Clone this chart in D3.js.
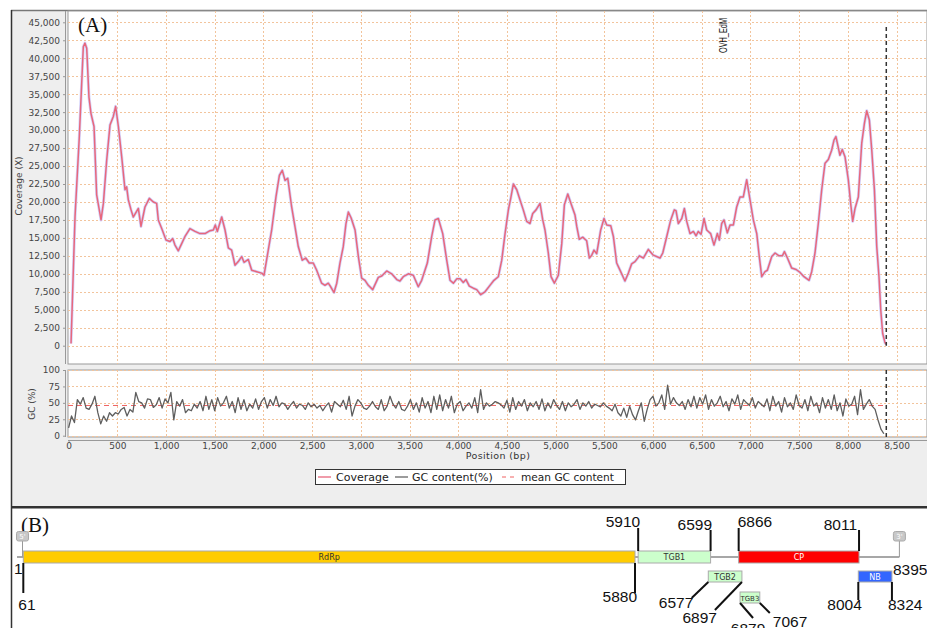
<!DOCTYPE html>
<html>
<head>
<meta charset="utf-8">
<script src="https://cdn.jsdelivr.net/npm/d3@7/dist/d3.min.js"></script>
<style>
  body { margin: 0; background: #fff; }
  svg { display: block; }
</style>
</head>
<body>
<svg id="chart" width="927" height="628" font-family="'DejaVu Sans', sans-serif"></svg>
<script>
// coverage depth: position (bp) and depth (X)
const covPos = [25, 66, 110, 151, 168, 186, 209, 230, 261, 288, 333, 357, 391, 425, 459, 483, 511, 545, 579, 596,
  613, 641, 664, 716, 743, 784, 829, 870, 904, 921, 956, 1000, 1041, 1069, 1092, 1126, 1161, 1195, 1246, 1298,
  1349, 1400, 1452, 1486, 1506, 1527, 1572, 1606, 1640, 1674, 1708, 1742, 1777, 1801, 1845, 1880, 1931, 1983, 2006, 2050,
  2085, 2129, 2164, 2194, 2222, 2250, 2290, 2325, 2358, 2399, 2434, 2471, 2512, 2547, 2598, 2632, 2666, 2691, 2725, 2753,
  2786, 2820, 2848, 2872, 2900, 2941, 2975, 3009, 3043, 3077, 3122, 3180, 3215, 3266, 3317, 3369, 3402, 3436, 3488, 3539,
  3590, 3625, 3683, 3728, 3762, 3796, 3841, 3882, 3916, 3950, 3985, 4019, 4052, 4080, 4114, 4155, 4190, 4231, 4275, 4326,
  4367, 4412, 4447, 4481, 4515, 4539, 4566, 4601, 4634, 4668, 4703, 4737, 4765, 4799, 4840, 4868, 4891, 4925, 4953, 4987,
  5028, 5063, 5090, 5125, 5155, 5199, 5217, 5243, 5278, 5319, 5346, 5371, 5394, 5422, 5463, 5497, 5525, 5566, 5593, 5627,
  5668, 5712, 5747, 5781, 5815, 5860, 5901, 5952, 6003, 6072, 6100, 6141, 6182, 6219, 6236, 6260, 6295, 6322, 6346, 6380,
  6414, 6442, 6465, 6493, 6524, 6551, 6592, 6626, 6660, 6681, 6705, 6729, 6763, 6791, 6825, 6859, 6893, 6927, 6962, 6996,
  7030, 7065, 7091, 7116, 7150, 7174, 7219, 7253, 7294, 7328, 7349, 7380, 7424, 7469, 7509, 7550, 7602, 7629, 7663, 7697,
  7732, 7766, 7800, 7834, 7858, 7878, 7919, 7943, 7971, 8005, 8029, 8050, 8074, 8108, 8143, 8170, 8194, 8221, 8246, 8273,
  8297, 8320, 8338, 8358, 8382, 8395];
const covVal = [300, 17950, 29070, 41600, 42100, 41400, 34600, 32300, 30500, 21000, 17500, 19800, 25800, 30700, 31900, 33300, 30500, 26300, 21700, 22100,
  20300, 18900, 17900, 19100, 16600, 19300, 20500, 20000, 19800, 17500, 16300, 14700, 14500, 14900, 14000, 13200, 14200, 15200, 16300, 15900,
  15600, 15600, 16000, 16100, 16800, 15900, 17900, 16100, 13600, 13300, 11200, 11700, 12400, 11600, 12000, 10500, 10300, 10100, 9800, 13300,
  16100, 20700, 23700, 24400, 23000, 23300, 19300, 16500, 13800, 11900, 12200, 11500, 11500, 10500, 8700, 8400, 8700, 8200, 7400, 8700,
  11500, 13800, 17000, 18600, 17800, 16100, 12400, 9400, 9100, 8400, 7800, 9500, 9700, 10400, 10000, 9200, 9000, 9600, 10000, 9800,
  8200, 9100, 11500, 15200, 17500, 17700, 15600, 11900, 9100, 8700, 9300, 9300, 8800, 9200, 8300, 8000, 7800, 7100, 7500, 8400,
  9100, 9600, 11900, 15600, 18900, 20500, 22500, 21700, 20300, 18900, 17300, 17000, 18400, 18900, 19800, 17500, 16100, 12900, 9600, 8700,
  9800, 14200, 19600, 21100, 19900, 18200, 16600, 14800, 15100, 14600, 12200, 12600, 13300, 12800, 16100, 17700, 16800, 16700, 15200, 11500,
  10300, 9000, 10100, 11400, 11700, 12500, 12200, 13400, 12600, 12200, 12900, 15200, 17500, 18900, 18800, 17000, 17700, 19100, 17300, 15600,
  15900, 15300, 15900, 15500, 17700, 16100, 15600, 14000, 15600, 14700, 17000, 17500, 15700, 16800, 16800, 19300, 20700, 20700, 23100, 20300,
  17500, 15600, 12400, 9600, 10300, 10500, 12400, 12900, 12500, 12500, 13100, 12200, 10800, 10600, 10200, 9600, 9100, 10300, 12900, 17000,
  21700, 25400, 25900, 27200, 28600, 29100, 26500, 27300, 26300, 23100, 19800, 17300, 19100, 20700, 28200, 30900, 32700, 31400, 27200, 21700,
  13800, 9600, 5000, 1700, 400, 200];

// GC content (%) in 30 bp windows, first window at 0 bp
const gcStep = 30;
const gcVal = [
  12, 30, 20, 55, 48, 58, 42, 40, 48, 60, 35, 18, 30, 22, 35, 30, 35, 33, 40, 43,
  30, 40, 36, 66, 52, 50, 42, 56, 55, 43, 47, 58, 42, 56, 50, 66, 24, 52, 45, 55,
  35, 40, 38, 48, 42, 52, 38, 60, 40, 55, 38, 58, 45, 50, 60, 42, 52, 35, 58, 40,
  55, 38, 48, 42, 56, 40, 52, 58, 42, 55, 46, 60, 44, 50, 48, 40, 47, 52, 42, 48,
  46, 40, 50, 44, 48, 42, 46, 38, 45, 50, 36, 52, 48, 44, 54, 40, 60, 30, 45, 55,
  50, 42, 40, 45, 52, 44, 40, 55, 38, 45, 60, 48, 42, 52, 40, 38, 45, 55, 40, 50,
  36, 58, 42, 52, 35, 60, 40, 62, 38, 55, 42, 60, 35, 48, 52, 38, 45, 50, 42, 58,
  35, 70, 40, 50, 45, 48, 52, 50, 47, 42, 54, 36, 58, 40, 52, 45, 55, 38, 50, 44,
  52, 40, 56, 38, 50, 42, 55, 46, 40, 52, 38, 50, 44, 48, 55, 40, 50, 45, 52, 42,
  48, 46, 44, 50, 45, 42, 38, 48, 35, 30, 42, 28, 45, 32, 24, 38, 50, 22, 40, 55,
  60, 45, 50, 62, 40, 77, 48, 58, 50, 46, 52, 40, 55, 44, 60, 42, 58, 48, 62, 40,
  55, 45, 50, 60, 44, 52, 38, 56, 48, 62, 40, 55, 50, 46, 58, 42, 52, 48, 44, 56,
  38, 60, 45, 52, 36, 58, 44, 50, 40, 62, 46, 42, 55, 38, 60, 45, 50, 35, 58, 42,
  55, 40, 62, 38, 50, 30, 56, 45, 48, 60, 32, 70, 40, 48, 55, 45, 40, 24, 10, 3];
const gcMean = 46;

const covTicks = [0, 2500, 5000, 7500, 10000, 12500, 15000, 17500, 20000, 22500,
  25000, 27500, 30000, 32500, 35000, 37500, 40000, 42500, 45000];
const gcTicks = [0, 25, 50, 75, 100];
const posTicks = [0, 500, 1000, 1500, 2000, 2500, 3000, 3500, 4000, 4500, 5000, 5500, 6000, 6500, 7000, 7500, 8000, 8500];

// genome map (B)
const genomeLength = 8395;
const orfNames = ["RdRp", "TGB1", "TGB2", "TGB3", "CP", "NB"];
const orfStart = [61, 5910, 6577, 6879, 6866, 8004];
const orfEnd = [5880, 6599, 6897, 7067, 8011, 8324];

// ---------------------------------------------------------------------------
const W = 927;
const svg = d3.select("#chart");
const fmt = d3.format(",");

const gridCol = "#f2c49c";
const covCol = "#e8677c";
const serif = "'Liberation Serif', 'Times New Roman', serif";
const numFont = "'Liberation Sans', Arial, sans-serif";

// panel A background and frame
svg.append("rect").attr("x", 12).attr("y", 10).attr("width", W - 12).attr("height", 497).attr("fill", "#eeeeee");
svg.append("line").attr("x1", 11).attr("x2", W).attr("y1", 10.5).attr("y2", 10.5).attr("stroke", "#777").attr("stroke-width", 1.5);
svg.append("rect").attr("x", 11).attr("y", 506).attr("width", W - 11).attr("height", 2.5).attr("fill", "#333");
svg.append("line").attr("x1", 11.5).attr("x2", 11.5).attr("y1", 10).attr("y2", 628).attr("stroke", "#333").attr("stroke-width", 1.5);

// scales
const x = d3.scaleLinear().domain([0, 8815]).range([68.6, 927.2]);
const yCov = d3.scaleLinear().domain([0, 45000]).range([345.7, 22.3]);
const yGc = d3.scaleLinear().domain([0, 100]).range([435.7, 370]);

const covBox = {top: 11, bottom: 364};
const gcBox = {top: 370, bottom: 437};

// plot backgrounds
[covBox, gcBox].forEach(b => {
  svg.append("rect").attr("x", 68).attr("y", b.top).attr("width", W - 68).attr("height", b.bottom - b.top)
     .attr("fill", "#fff").attr("stroke", "#999").attr("stroke-width", 1);
});

// clip
const defs = svg.append("defs");
defs.append("clipPath").attr("id", "clipCov").append("rect")
    .attr("x", 68).attr("y", covBox.top).attr("width", W - 68).attr("height", covBox.bottom - covBox.top);
defs.append("clipPath").attr("id", "clipGc").append("rect")
    .attr("x", 68).attr("y", gcBox.top).attr("width", W - 68).attr("height", gcBox.bottom - gcBox.top);

// grid lines
function grid(box, yScale, ticks) {
  const g = svg.append("g").attr("stroke", gridCol).attr("stroke-width", 1).attr("stroke-dasharray", "2,2");
  g.selectAll(".h").data(ticks).enter().append("line")
   .attr("x1", 68).attr("x2", W)
   .attr("y1", d => Math.round(yScale(d)) + 0.5).attr("y2", d => Math.round(yScale(d)) + 0.5);
  g.selectAll(".v").data(posTicks.filter(d => d > 0)).enter().append("line")
   .attr("y1", box.top).attr("y2", box.bottom)
   .attr("x1", d => Math.round(x(d)) + 0.5).attr("x2", d => Math.round(x(d)) + 0.5);
}
grid(covBox, yCov, covTicks);
grid(gcBox, yGc, gcTicks);

// coverage curve
const covData = covPos.map((p, i) => [p, covVal[i]]);
const covLine = d3.line().x(d => x(d[0])).y(d => yCov(d[1]));
const covG = svg.append("g").attr("clip-path", "url(#clipCov)");
covG.append("path").datum(covData).attr("d", covLine)
    .attr("fill", "none").attr("stroke", "#d4d4fb").attr("stroke-width", 3).attr("stroke-linejoin", "round");
covG.append("path").datum(covData).attr("d", covLine)
    .attr("fill", "none").attr("stroke", covCol).attr("stroke-width", 1.5).attr("stroke-linejoin", "round");

// genome end marker
svg.append("line").attr("x1", x(genomeLength)).attr("x2", x(genomeLength))
   .attr("y1", 27).attr("y2", yCov(0))
   .attr("stroke", "#333").attr("stroke-width", 1.5).attr("stroke-dasharray", "4,3");
svg.append("text")
   .attr("transform", "translate(727,53) rotate(-90)")
   .style("font-family", numFont)
   .attr("font-size", 10).attr("fill", "#111")
   .attr("textLength", 35).attr("lengthAdjust", "spacingAndGlyphs")
   .text("OVH_EdM");

// GC panel
const gcData = gcVal.map((v, i) => [i * gcStep, v]);
const gcG = svg.append("g").attr("clip-path", "url(#clipGc)");
gcG.append("line").attr("x1", 68).attr("x2", x(genomeLength))
   .attr("y1", yGc(gcMean)).attr("y2", yGc(gcMean))
   .attr("stroke", "#f06262").attr("stroke-width", 1).attr("stroke-dasharray", "5,4");
gcG.append("path").datum(gcData)
   .attr("d", d3.line().x(d => x(d[0])).y(d => yGc(d[1])))
   .attr("fill", "none").attr("stroke", "#5e5e5e").attr("stroke-width", 1.3).attr("stroke-linejoin", "round");
svg.append("line").attr("x1", x(genomeLength)).attr("x2", x(genomeLength))
   .attr("y1", gcBox.top).attr("y2", gcBox.bottom)
   .attr("stroke", "#333").attr("stroke-width", 1.5).attr("stroke-dasharray", "4,3");

// axes
function styleAxis(g) {
  g.select(".domain").remove();
  g.selectAll(".tick line").attr("stroke", "#999");
  g.selectAll(".tick text").attr("fill", "#444").attr("font-size", 9).attr("font-family", "'DejaVu Sans', sans-serif");
}
svg.append("g").attr("transform", "translate(65,0)")
   .call(d3.axisLeft(yCov).tickValues(covTicks).tickFormat(fmt).tickSize(2).tickPadding(3))
   .call(styleAxis);
svg.append("g").attr("transform", "translate(65,0)")
   .call(d3.axisLeft(yGc).tickValues(gcTicks).tickSize(2).tickPadding(3))
   .call(styleAxis);
svg.append("g").attr("transform", "translate(0,440)")
   .call(d3.axisBottom(x).tickValues(posTicks).tickFormat(fmt).tickSize(2).tickPadding(1))
   .call(styleAxis);

// axis lines
svg.append("line").attr("x1", 65.5).attr("x2", 65.5).attr("y1", covBox.top).attr("y2", covBox.bottom).attr("stroke", "#999");
svg.append("line").attr("x1", 65.5).attr("x2", 65.5).attr("y1", gcBox.top).attr("y2", gcBox.bottom).attr("stroke", "#999");
svg.append("line").attr("x1", 68).attr("x2", W).attr("y1", 440.5).attr("y2", 440.5).attr("stroke", "#999");

// axis titles
svg.append("text").attr("transform", "translate(21.5,186) rotate(-90)")
   .attr("text-anchor", "middle").attr("font-size", 9).attr("fill", "#444").text("Coverage (X)");
svg.append("text").attr("transform", "translate(35,404) rotate(-90)")
   .attr("text-anchor", "middle").attr("font-size", 9).attr("fill", "#444").text("GC (%)");
svg.append("text").attr("x", 498).attr("y", 459)
   .attr("text-anchor", "middle").attr("font-size", 9.5).attr("fill", "#333")
   .attr("letter-spacing", 0.4).text("Position (bp)");

// legend
const leg = svg.append("g");
leg.append("rect").attr("x", 315.5).attr("y", 469.5).attr("width", 310).attr("height", 15)
   .attr("fill", "#fff").attr("stroke", "#333");
leg.append("line").attr("x1", 318).attr("x2", 331).attr("y1", 477).attr("y2", 477).attr("stroke", covCol).attr("stroke-width", 1.3);
leg.append("text").attr("x", 336).attr("y", 481).attr("font-size", 11).attr("fill", "#222").text("Coverage");
leg.append("line").attr("x1", 395).attr("x2", 408).attr("y1", 477).attr("y2", 477).attr("stroke", "#666").attr("stroke-width", 1.3);
leg.append("text").attr("x", 412).attr("y", 481).attr("font-size", 11).attr("fill", "#222").text("GC content(%)");
leg.append("line").attr("x1", 502).attr("x2", 518).attr("y1", 477).attr("y2", 477).attr("stroke", "#f06262").attr("stroke-dasharray", "4,4");
leg.append("text").attr("x", 521).attr("y", 481).attr("font-size", 10.6).attr("fill", "#222").text("mean GC content");

// panel labels
svg.append("text").attr("x", 78).attr("y", 32).style("font-family", serif)
   .attr("font-size", 21).attr("fill", "#111").text("(A)");
svg.append("text").attr("x", 21).attr("y", 532).style("font-family", serif)
   .attr("font-size", 21).attr("fill", "#111").text("(B)");

// ---------------------------------------------------------------------------
// genome map
const gx = d3.scaleLinear().domain([1, genomeLength]).range([17, 899.4]);
const rowY = {RdRp: 551, TGB1: 551, CP: 551, TGB2: 571, NB: 571, TGB3: 592};
const rowH = {RdRp: 12, TGB1: 12, CP: 12, TGB2: 11, NB: 11, TGB3: 11};
const orfFill = {RdRp: "#ffcc00", TGB1: "#ccffcc", TGB2: "#ccffcc", TGB3: "#ccffcc", CP: "#ff0000", NB: "#3366ff"};
const orfText = {RdRp: "#333", TGB1: "#333", TGB2: "#333", TGB3: "#333", CP: "#fff", NB: "#fff"};

const map = svg.append("g");
map.append("line").attr("x1", gx(1)).attr("x2", gx(genomeLength)).attr("y1", 557).attr("y2", 557)
   .attr("stroke", "#8a8a8a").attr("stroke-width", 1.5);

// end badges
function badge(cx, label) {
  map.append("line").attr("x1", cx).attr("x2", cx).attr("y1", 540).attr("y2", 557).attr("stroke", "#999");
  map.append("rect").attr("x", cx - 6).attr("y", 531.5).attr("width", 12).attr("height", 9.5).attr("rx", 2)
     .attr("fill", "#c8c8c8").attr("stroke", "#aaa");
  map.append("text").attr("x", cx).attr("y", 539).attr("text-anchor", "middle")
     .attr("font-size", 7).attr("fill", "#fff").text(label);
}
badge(gx(1) + 5.5, "5'");
badge(gx(genomeLength), "3'");

orfNames.forEach((n, i) => {
  const x0 = gx(orfStart[i]), x1 = gx(orfEnd[i]);
  map.append("rect").attr("x", x0).attr("y", rowY[n]).attr("width", x1 - x0).attr("height", rowH[n])
     .attr("fill", orfFill[n]).attr("stroke", "#aaa").attr("stroke-width", 1);
  map.append("text").attr("x", (x0 + x1) / 2).attr("y", rowY[n] + rowH[n] / 2 + 3)
     .attr("text-anchor", "middle").attr("font-size", n === "TGB3" ? 7 : 8).attr("fill", orfText[n]).text(n);
});

// coordinate labels with leader lines
function leader(bp, y0, dx, y1, label, tx, ty, anchor) {
  const x0 = gx(bp);
  map.append("line").attr("x1", x0).attr("x2", x0 + dx).attr("y1", y0).attr("y2", y1)
     .attr("stroke", "#111").attr("stroke-width", 2);
  map.append("text").attr("x", x0 + tx).attr("y", ty).attr("text-anchor", anchor)
     .style("font-family", numFont).attr("font-size", 15.5).attr("fill", "#111").text(label);
}
map.append("text").attr("x", 14).attr("y", 574).style("font-family", numFont)
   .attr("font-size", 15.5).attr("fill", "#111").text("1");
map.append("text").attr("x", 893).attr("y", 575).style("font-family", numFont)
   .attr("font-size", 15.5).attr("fill", "#111").text(String(genomeLength));

leader(orfStart[0], 563, 0, 593, String(orfStart[0]), -5, 610, "start");
leader(orfEnd[0], 563, 0, 593, String(orfEnd[0]), 2, 602, "end");
leader(orfStart[1], 551, 0, 528, String(orfStart[1]), 2, 527, "end");
leader(orfEnd[1], 551, 0, 530, String(orfEnd[1]), 1.5, 530, "end");
leader(orfStart[4], 551, 0, 528, String(orfStart[4]), -1, 527, "start");
leader(orfEnd[4], 551, 0, 530, String(orfEnd[4]), -2, 530, "end");
leader(orfStart[5], 582, 0, 600, String(orfStart[5]), 3.5, 610, "end");
leader(orfEnd[5], 582, 0, 600, String(orfEnd[5]), -4, 610, "start");
leader(orfStart[2], 582, -16.6, 598, String(orfStart[2]), -15, 608, "end");
leader(orfEnd[2], 582, -27, 610, String(orfEnd[2]), -25, 622.5, "end");
leader(orfStart[3], 603, 13, 618, String(orfStart[3]), 8, 634, "middle");
leader(orfEnd[3], 603, 10, 613, String(orfEnd[3]), 13, 626.5, "start");
</script>
</body>
</html>
